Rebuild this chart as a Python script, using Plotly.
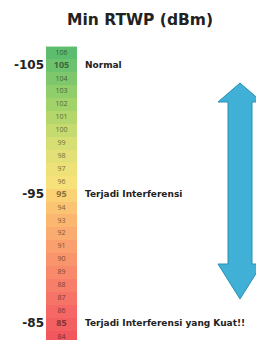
import plotly.graph_objects as go
from plotly.colors import sample_colorscale, unlabel_rgb, label_rgb

# ---- data ----
levels = list(range(106, 83, -1))          # RTWP magnitude rows (dBm, negated)
marks = [105, 95, 85]                      # highlighted rows
mark_labels = ["-105", "-95", "-85"]
mark_desc = ["Normal", "Terjadi Interferensi", "Terjadi Interferensi yang Kuat!!"]
title = "Min RTWP (dBm)"

# ---- styling ----
cscale = [
    [0.00, "#f2575e"],
    [0.10, "#f56a67"],
    [0.25, "#f8906c"],
    [0.40, "#fbb470"],
    [0.50, "#fad275"],
    [0.55, "#f6e27a"],
    [0.68, "#d8df74"],
    [0.80, "#a9d46a"],
    [1.00, "#5cbd6e"],
]
vmin, vmax = min(levels), max(levels)

W, H = 256, 340
# y mapping: value 106 at pixel 53, 84 at pixel 337
ppu = (337 - 53) / (106 - 84)
def yv(px):
    return 106 - (px - 53) / ppu
y_range = [yv(H), yv(0)]

def darker(c, f):
    r, g, b = unlabel_rgb(c)
    return label_rgb((int(r * f), int(g * f), int(b * f)))

fig = go.Figure()

fig.add_trace(go.Heatmap(
    z=[[v] for v in levels],
    x=[46, 77],
    y=levels,
    colorscale=cscale, zmin=vmin, zmax=vmax,
    showscale=False, hoverinfo="skip",
))

cell_colors = sample_colorscale(cscale, [(v - vmin) / (vmax - vmin) for v in levels])
small = [v for v in levels if v not in marks]
fig.add_trace(go.Scatter(
    x=[61.5] * len(small), y=small, mode="text",
    text=[str(v) for v in small],
    textfont=dict(size=7, family="Open Sans",
                  color=[darker(cell_colors[levels.index(v)], 0.5) for v in small]),
    hoverinfo="skip", showlegend=False,
))
fig.add_trace(go.Scatter(
    x=[61.5] * len(marks), y=marks, mode="text",
    text=[f"<b>{v}</b>" for v in marks],
    textfont=dict(size=9, family="Open Sans",
                  color=[darker(cell_colors[levels.index(v)], 0.55) for v in marks]),
    hoverinfo="skip", showlegend=False,
))
fig.add_trace(go.Scatter(
    x=[44] * len(marks), y=marks, mode="text",
    text=[f"<b>{t}</b>" for t in mark_labels],
    textposition="middle left",
    textfont=dict(size=12, family="DejaVu Sans", color="#222222"),
    hoverinfo="skip", showlegend=False,
))
fig.add_trace(go.Scatter(
    x=[85] * len(marks), y=marks, mode="text",
    text=[f"<b>{t}</b>" for t in mark_desc],
    textposition="middle right",
    textfont=dict(size=9, family="DejaVu Sans", color="#222222"),
    hoverinfo="skip", showlegend=False,
))

# double-headed arrow (decoration)
cx = 240
sh, hw = 12, 22
t_tip, t_base = yv(83), yv(102)
b_base, b_tip = yv(264), yv(299)
pts = [(cx, t_tip), (cx + hw, t_base), (cx + sh, t_base), (cx + sh, b_base),
       (cx + hw, b_base), (cx, b_tip), (cx - hw, b_base), (cx - sh, b_base),
       (cx - sh, t_base), (cx - hw, t_base)]
path = "M " + " L ".join(f"{x},{y}" for x, y in pts) + " Z"
fig.add_shape(type="path", path=path, xref="x", yref="y",
              fillcolor="#40b0d6", line=dict(color="#2a90b5", width=1))

fig.update_layout(
    width=W, height=H,
    margin=dict(l=0, r=0, t=0, b=0),
    paper_bgcolor="white", plot_bgcolor="white",
    showlegend=False,
    title=dict(text=f"<b>{title}</b>", x=140 / W, xanchor="center",
               y=1 - 20 / H, yanchor="middle",
               font=dict(size=15.5, family="DejaVu Sans", color="#222222")),
    xaxis=dict(range=[0, W], visible=False, fixedrange=True),
    yaxis=dict(range=y_range, visible=False, fixedrange=True),
)

fig.write_html("out.html", post_script="document.body.style.margin='0';",
               config={"displayModeBar": False})
